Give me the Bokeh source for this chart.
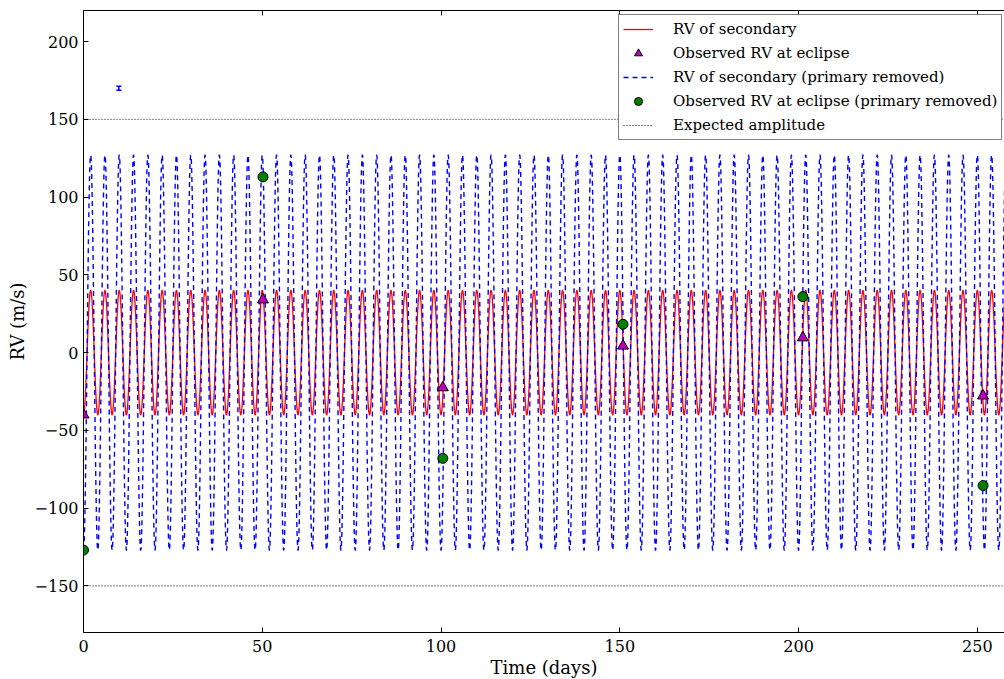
import numpy as np
from bokeh.plotting import figure
from bokeh.models import Range1d, LinearAxis, FixedTicker, Legend, LegendItem, Title
from bokeh.embed import file_html
from bokeh.resources import INLINE

# ---- values ----
period_days = 4.0          # period of the secondary's RV curve
amp_secondary = 40.0       # RV amplitude of the secondary (m/s)
amp_removed = 127.0        # RV amplitude with primary removed (m/s)
t_start, t_end = 0.0, 260.0

ecl_t = [0.0, 50.2, 100.5, 150.9, 201.2, 251.6]
ecl_rv = [-40.0, 34.0, -22.5, 4.3, 9.6, -27.8]
ecl_rv_removed = [-127.0, 113.0, -68.0, 18.2, 36.0, -85.5]

expected_amp = [150.0, -150.0]

err_t = [9.9]
err_rv = [170.0]
err_half = [1.3]

x_ticks = [0, 50, 100, 150, 200, 250]
y_ticks = [-150, -100, -50, 0, 50, 100, 150, 200]

labels = ["RV of secondary", "Observed RV at eclipse",
          "RV of secondary (primary removed)",
          "Observed RV at eclipse (primary removed)", "Expected amplitude"]

# ---- model curves ----
t = np.linspace(t_start, t_end, 26001)
phase = np.cos(2 * np.pi * t / period_days)
rv_sec = -amp_secondary * phase
rv_rem = -amp_removed * phase

SERIF = "DejaVu Serif"
Y_MIN, Y_MAX = -180, 220
X_MAX = 257.6

W, H = 1004, 679
B_LEFT, B_TOP, B_BOTTOM = 83, 10, 47

p = figure(width=W, height=H, x_range=Range1d(0, X_MAX), y_range=Range1d(Y_MIN, Y_MAX),
           output_backend="svg", toolbar_location=None,
           min_border_left=B_LEFT, min_border_right=0, min_border_top=B_TOP,
           min_border_bottom=B_BOTTOM)
p.outline_line_color = None
p.grid.visible = False

red_style = dict(line_color="red", line_width=1.3)
blue_style = dict(line_color="blue", line_width=1.4, line_dash="5 4")
dot_style = dict(line_color="black", line_width=1, line_dash="1 2")
tri_style = dict(marker="triangle", size=11, fill_color="#bf00bf", line_color="black", line_width=1)
circ_style = dict(marker="circle", size=10, fill_color="#008000", line_color="black", line_width=1)

r_red = p.line(t, rv_sec, **red_style)
r_blue = p.line(t, rv_rem, **blue_style)
r_dot = p.multi_line(xs=[[t_start, t_end] for _ in expected_amp],
                     ys=[[a, a] for a in expected_amp], **dot_style)

# error bar
lo = [y - e for y, e in zip(err_rv, err_half)]
hi = [y + e for y, e in zip(err_rv, err_half)]
p.segment(x0=err_t, y0=lo, x1=err_t, y1=hi, line_color="blue", line_width=1.5)
p.scatter(x=err_t + err_t, y=lo + hi, marker="dash", size=5, line_color="blue", line_width=1.5)

r_tri = p.scatter(ecl_t, ecl_rv, **tri_style)
r_circ = p.scatter(ecl_t, ecl_rv_removed, **circ_style)

def style_axis(ax):
    ax.axis_line_color = "black"
    ax.axis_line_width = 1
    ax.major_tick_in = 5
    ax.major_tick_out = 0
    ax.minor_tick_line_color = None
    ax.major_tick_line_color = "black"
    ax.major_label_text_font = SERIF
    ax.major_label_text_color = "black"
    ax.major_label_text_font_size = "16px"
    ax.axis_label_text_font = SERIF
    ax.axis_label_text_font_style = "normal"
    ax.axis_label_text_font_size = "18px"
    ax.axis_label_text_color = "black"

xa = p.xaxis[0]
xa.ticker = FixedTicker(ticks=x_ticks)
style_axis(xa)
xa.major_label_standoff = 7

ya = p.yaxis[0]
ya.ticker = FixedTicker(ticks=y_ticks)
ya.major_label_overrides = {v: (("\u2212" + str(abs(v))) if v < 0 else str(v)) for v in y_ticks}
style_axis(ya)
ya.major_label_standoff = 5
ya.axis_label = "RV (m/s)"
ya.axis_label_standoff = 4

top = LinearAxis(ticker=FixedTicker(ticks=x_ticks))
style_axis(top)
top.major_label_text_font_size = "1px"
top.major_label_text_color = None
top.major_label_standoff = 0
p.add_layout(top, "above")

# x-axis title as a title below the axis
p.add_layout(Title(text="Time (days)", align="center", offset=3, standoff=0,
                   text_font=SERIF, text_font_size="18px", text_font_style="normal",
                   text_color="black"), "below")

legend = Legend(items=[LegendItem(label=labels[0], renderers=[r_red]),
                       LegendItem(label=labels[1], renderers=[r_tri]),
                       LegendItem(label=labels[2], renderers=[r_blue]),
                       LegendItem(label=labels[3], renderers=[r_circ]),
                       LegendItem(label=labels[4], renderers=[r_dot])],
                location=(535, 492))
legend.label_text_font = SERIF
legend.label_text_font_size = "15px"
legend.label_text_color = "black"
legend.label_height = 20
legend.glyph_height = 20
legend.glyph_width = 30
legend.label_standoff = 20
legend.spacing = 4
legend.padding = 4
legend.margin = 0
legend.border_line_color = "black"
legend.border_line_width = 1
legend.background_fill_alpha = 1
p.add_layout(legend)

open("out.html", "w").write(file_html(p, INLINE))
